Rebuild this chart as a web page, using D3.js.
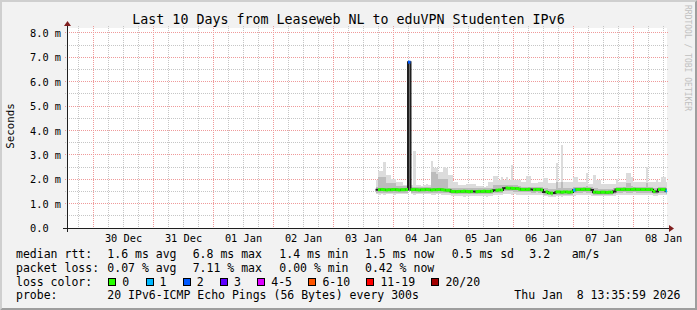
<!DOCTYPE html>
<html><head><meta charset="utf-8">
<script src="https://cdn.jsdelivr.net/npm/d3@7"></script>
<style>
html,body{margin:0;padding:0;background:#f2f2f2;}
svg{display:block;}
text{font-family:"DejaVu Sans Mono",monospace;fill:#000;white-space:pre;}
</style></head><body>
<svg id="chart" width="697" height="310"></svg>
<script>
// ---------------- data ----------------
const title = "Last 10 Days from Leaseweb NL to eduVPN Studenten IPv6";
const yLabel = "Seconds";
const watermark = "RRDTOOL / TOBI OETIKER";
const timeStart = "2025-12-29T13:35:59Z";
const timeEnd = "2026-01-08T13:35:59Z";
const dataStart = "2026-01-03T17:00:00Z";
const stepHours = 1;
const yTop = 8.2;
const yTicks = [0, 1, 2, 3, 4, 5, 6, 7, 8];
const yTickLabels = ["0.0", "1.0 m", "2.0 m", "3.0 m", "4.0 m", "5.0 m", "6.0 m", "7.0 m", "8.0 m"];

// median RTT (ms), one per hour
const median = [
  1.57,1.57,1.58,1.57,1.56,1.57,1.57,1.58,1.57,1.56,
  1.57,1.57,1.58,6.8,1.57,1.58,1.57,1.56,1.57,1.57,
  1.58,1.57,1.56,1.57,1.57,1.58,1.57,1.56,1.55,1.55,
  1.5,1.5,1.49,1.5,1.5,1.51,1.5,1.49,1.5,1.5,
  1.49,1.5,1.5,1.51,1.5,1.5,1.52,1.55,1.55,1.56,
  1.56,1.63,1.64,1.63,1.63,1.62,1.62,1.6,1.58,1.58,
  1.58,1.59,1.58,1.57,1.58,1.58,1.56,1.48,1.48,1.44,
  1.43,1.44,1.48,1.48,1.47,1.48,1.48,1.47,1.48,1.55,
  1.58,1.58,1.58,1.59,1.58,1.58,1.56,1.47,1.47,1.46,
  1.47,1.47,1.46,1.47,1.47,1.5,1.58,1.58,1.58,1.59,
  1.58,1.58,1.58,1.59,1.58,1.58,1.58,1.58,1.58,1.58,
  1.57,1.5,1.5,1.58,1.58,1.58,1.52
];
// lost pings out of 20 (null = between classes, no colour band)
const loss = [
  null,0,0,0,0,0,0,0,0,0,
  0,0,0,2,0,0,0,0,0,0,
  0,0,0,0,0,0,0,0,0,0,
  0,0,0,0,0,0,0,0,0,null,
  0,0,0,0,0,0,0,null,0,0,
  0,null,0,0,0,0,0,0,0,0,
  0,0,null,0,0,0,0,null,0,0,
  0,null,0,0,0,0,0,0,0,1,
  0,0,0,0,0,0,null,0,0,0,
  0,0,0,0,0,null,0,0,0,0,
  0,0,0,0,0,0,0,0,0,0,
  0,0,null,0,0,0,1
];
// smoke: lowest / highest ping (ms)
const smokeMin = [
  1.38,1.37,1.38,1.36,1.38,1.39,1.38,1.37,1.38,1.39,
  1.38,1.38,1.39,1.5,1.38,1.37,1.38,1.39,1.38,1.38,
  1.39,1.38,1.36,1.37,1.38,1.38,1.37,1.36,1.37,1.35,
  1.31,1.3,1.3,1.31,1.3,1.29,1.3,1.31,1.3,1.3,
  1.3,1.31,1.3,1.3,1.29,1.31,1.33,1.36,1.36,1.37,
  1.36,1.38,1.39,1.38,1.37,1.38,1.37,1.36,1.36,1.37,
  1.36,1.36,1.35,1.36,1.37,1.36,1.34,1.3,1.3,1.28,
  1.27,1.28,1.3,1.3,1.29,1.3,1.3,1.3,1.31,1.33,
  1.34,1.35,1.35,1.34,1.34,1.35,1.33,1.31,1.32,1.31,
  1.32,1.32,1.31,1.32,1.32,1.33,1.35,1.35,1.34,1.35,
  1.34,1.35,1.35,1.34,1.35,1.34,1.35,1.35,1.34,1.35,
  1.34,1.33,1.33,1.35,1.35,1.35,1.34
];
const smokeMax = [
  1.97,2.34,2.34,2.69,2.17,2.17,2.0,2.0,1.9,1.9,
  1.9,1.76,1.76,6.85,1.76,3.17,1.75,1.78,1.72,1.75,
  1.8,1.76,2.75,2.46,2.46,2.3,2.3,2.5,2.45,2.17,
  2.17,1.9,1.9,1.76,1.76,1.76,1.8,1.82,1.8,1.8,
  1.72,1.74,1.72,1.7,1.72,1.9,1.9,2.14,2.14,1.97,
  2.1,1.97,2.1,1.95,2.6,1.95,1.95,1.95,1.9,1.9,
  2.14,2.14,1.83,1.83,1.83,1.9,1.9,2.06,2.06,1.83,
  1.83,1.83,2.65,1.9,3.4,1.9,1.9,1.9,1.9,2.1,
  2.1,1.9,1.9,1.9,2.25,1.8,1.8,2.17,1.97,1.97,
  1.8,1.8,1.8,1.8,1.8,1.8,2.0,1.9,1.9,1.9,
  2.27,2.27,2.1,1.9,1.9,1.9,1.9,1.9,2.5,1.9,
  1.9,1.9,1.95,1.9,2.1,2.1,1.9
];
// smoke: inner (denser) band, low / high (ms)
const smokeMidLo = [
  1.45,1.44,1.45,1.44,1.45,1.45,1.45,1.44,1.45,1.45,
  1.45,1.45,1.45,1.5,1.45,1.44,1.45,1.45,1.45,1.45,
  1.45,1.45,1.43,1.44,1.45,1.45,1.44,1.44,1.44,1.43,
  1.39,1.38,1.38,1.39,1.38,1.38,1.38,1.39,1.38,1.38,
  1.38,1.39,1.38,1.38,1.38,1.39,1.4,1.43,1.43,1.44,
  1.44,1.5,1.51,1.5,1.5,1.49,1.49,1.48,1.46,1.46,
  1.46,1.46,1.45,1.45,1.46,1.45,1.44,1.37,1.37,1.34,
  1.33,1.34,1.37,1.37,1.36,1.37,1.37,1.36,1.37,1.42,
  1.45,1.45,1.45,1.46,1.45,1.45,1.44,1.36,1.36,1.35,
  1.36,1.36,1.35,1.36,1.36,1.39,1.45,1.45,1.45,1.46,
  1.45,1.45,1.45,1.46,1.45,1.45,1.45,1.45,1.45,1.45,
  1.44,1.39,1.39,1.45,1.45,1.45,1.41
];
const smokeMidHi = [
  1.7,2.1,2.1,2.1,1.85,1.85,1.85,1.85,1.72,1.72,
  1.72,1.72,1.72,6.85,1.68,1.68,1.68,1.68,1.68,1.68,
  1.68,1.68,2.3,2.3,2.2,2.0,2.0,2.0,2.0,1.65,
  1.65,1.65,1.65,1.65,1.65,1.65,1.65,1.65,1.65,1.65,
  1.65,1.65,1.65,1.65,1.65,1.65,1.65,1.75,1.75,1.75,
  1.75,1.75,1.78,1.78,1.78,1.75,1.75,1.72,1.68,1.68,
  1.7,1.7,1.68,1.68,1.68,1.68,1.68,1.62,1.62,1.6,
  1.6,1.6,1.9,1.62,1.9,1.62,1.62,1.62,1.62,1.7,
  1.7,1.68,1.68,1.68,1.72,1.68,1.68,1.62,1.62,1.6,
  1.6,1.6,1.6,1.6,1.6,1.62,1.7,1.68,1.68,1.68,
  1.85,1.85,1.72,1.68,1.68,1.68,1.68,1.68,1.85,1.68,
  1.68,1.64,1.64,1.68,1.7,1.7,1.66
];

const lossLabels = ["0", "1", "2", "3", "4-5", "6-10", "11-19", "20/20"];
const lossUpper = [0, 1, 2, 3, 5, 10, 19, 20];
const lossColors = ["#26ff00", "#00b8ff", "#0059ff", "#5e00ff", "#dd00ff", "#ff5500", "#ff0000", "#a10000"];

const rttLabel = "median rtt:";
const rttStats = ["1.6 ms avg", "6.8 ms max", "1.4 ms min", "1.5 ms now", "0.5 ms sd", "3.2", "am/s"];
const lossLabel = "packet loss:";
const lossStats = ["0.07 % avg", "7.11 % max", "0.00 % min", "0.42 % now"];
const colorLabel = "loss color:";
const probeLabel = "probe:";
const probeText = "20 IPv6-ICMP Echo Pings (56 Bytes) every 300s";
const stampText = "Thu Jan  8 13:35:59 2026";

// ---------------- drawing ----------------
const W = 697, H = 310;
const L = 67, R = 667, T = 28, B = 228;
const svg = d3.select("#chart");

svg.append("rect").attr("width", W).attr("height", H).attr("fill", "#f2f2f2");
svg.append("path").attr("d", `M0,${H}L2,${H-2}L2,2L${W-2},2L${W},0L0,0Z`).attr("fill", "#cfcfcf");
svg.append("path").attr("d", `M2,${H-2}L${W-2},${H-2}L${W-2},2L${W},0L${W},${H}L0,${H}Z`).attr("fill", "#9e9e9e");
svg.append("rect").attr("x", L).attr("y", T).attr("width", R - L).attr("height", B - T).attr("fill", "#ffffff");

const x = d3.scaleUtc().domain([new Date(timeStart), new Date(timeEnd)]).range([L, R]);
const y = d3.scaleLinear().domain([0, yTop]).range([B, T]);
const px = v => Math.floor(v) + 0.5;

// grid
const grid = svg.append("g").attr("fill", "none").attr("stroke-width", 1);
const [d0, d1] = x.domain();
const minorT = d3.utcHour.every(6).range(d0, d1).filter(d => d.getUTCHours() !== 0);
const majorT = d3.utcDay.range(d0, d1);
const minorY = d3.range(0.5, yTop, 1);
const majorY = yTicks.filter(v => v > 0);
const minorCol = "#c6c6c6", majorCol = "#ef9a9a";
minorT.forEach(t => grid.append("line").attr("x1", px(x(t))).attr("x2", px(x(t))).attr("y1", T - 2).attr("y2", B + 2)
  .attr("stroke", minorCol).attr("stroke-dasharray", "1,1"));
minorY.forEach(v => grid.append("line").attr("x1", L - 2).attr("x2", R + 2).attr("y1", px(y(v))).attr("y2", px(y(v)))
  .attr("stroke", minorCol).attr("stroke-dasharray", "1,1"));
majorT.forEach(t => grid.append("line").attr("x1", px(x(t))).attr("x2", px(x(t))).attr("y1", T - 2).attr("y2", B + 2)
  .attr("stroke", majorCol).attr("stroke-dasharray", "1,1"));
majorY.forEach(v => grid.append("line").attr("x1", L - 2).attr("x2", R + 2).attr("y1", px(y(v))).attr("y2", px(y(v)))
  .attr("stroke", majorCol).attr("stroke-dasharray", "1,1"));

// data
const tAt = i => d3.utcHour.offset(new Date(dataStart), i * stepHours);
const xa = i => x(tAt(i));
const xb = i => Math.min(x(tAt(i + 1)), R);
const idx = d3.range(median.length);
const plot = svg.append("g");
plot.selectAll("rect.smoke").data(idx).join("rect").attr("class", "smoke")
  .attr("x", i => xa(i)).attr("width", i => xb(i) - xa(i))
  .attr("y", i => y(smokeMax[i])).attr("height", i => y(smokeMin[i]) - y(smokeMax[i]))
  .attr("fill", "#dcdcdc").attr("shape-rendering", "crispEdges");
plot.selectAll("rect.smokemid").data(idx).join("rect").attr("class", "smokemid")
  .attr("x", i => xa(i)).attr("width", i => xb(i) - xa(i))
  .attr("y", i => y(smokeMidHi[i])).attr("height", i => y(smokeMidLo[i]) - y(smokeMidHi[i]))
  .attr("fill", "#bcbcbc").attr("shape-rendering", "crispEdges");

const pts = idx.map(i => [xa(i), y(median[i])]);
pts.push([xb(median.length - 1), y(median[median.length - 1])]);
plot.append("path").attr("d", d3.line().curve(d3.curveStepAfter)(pts))
  .attr("fill", "none").attr("stroke", "#202020").attr("stroke-width", 2);

const lossClass = n => lossUpper.findIndex(u => n <= u);
plot.selectAll("rect.med").data(idx.filter(i => loss[i] !== null)).join("rect").attr("class", "med")
  .attr("x", i => xa(i)).attr("width", i => xb(i) - xa(i))
  .attr("y", i => y(median[i]) - 1.5).attr("height", 3)
  .attr("fill", i => lossColors[lossClass(loss[i])]);

// axes
const gy = svg.append("g").attr("transform", `translate(${L},0)`)
  .call(d3.axisLeft(y).tickValues(yTicks).tickFormat((d, i) => yTickLabels[i]).tickSize(0));
gy.select(".domain").remove();
gy.selectAll("text").attr("x", -37).attr("text-anchor", "start").attr("dy", "0.35em")
  .style("font-family", "DejaVu Sans Mono").style("font-size", "10.3px");

const noons = d3.utcDay.range(d3.utcDay.floor(d0), d1).map(d => d3.utcHour.offset(d, 12)).filter(d => d >= d0 && d <= d1);
const gx = svg.append("g").attr("transform", `translate(0,${B})`)
  .call(d3.axisBottom(x).tickValues(noons).tickFormat(d3.utcFormat("%d %b")).tickSize(0));
gx.select(".domain").remove();
gx.selectAll("text").attr("y", 6.5).style("font-family", "DejaVu Sans Mono").style("font-size", "10.3px");

svg.append("line").attr("x1", L - 4).attr("x2", R + 4).attr("y1", B + 0.5).attr("y2", B + 0.5).attr("stroke", "#1f1f1f");
svg.append("line").attr("x1", L + 0.5).attr("x2", L + 0.5).attr("y1", B + 4).attr("y2", T - 4).attr("stroke", "#1f1f1f");
svg.append("path").attr("d", `M${R+2},${B-3}L${R+2},${B+4}L${R+7},${B+0.5}Z`).attr("fill", "#801f1f");
svg.append("path").attr("d", `M${L-3},${T-2}L${L+4},${T-2}L${L+0.5},${T-7}Z`).attr("fill", "#801f1f");

// titles
svg.append("text").attr("x", W / 2).attr("y", 24).attr("text-anchor", "middle")
  .style("font-size", "13.3px").text(title);
svg.append("text").attr("transform", "translate(14,126) rotate(-90)").attr("text-anchor", "middle")
  .style("font-size", "10.8px").text(yLabel);
svg.append("text").attr("transform", "translate(685,5) rotate(90)").attr("text-anchor", "start")
  .style("font-size", "8px").style("fill", "#c0c0c0").text(watermark);

// legend
const lg = svg.append("g").style("font-size", "11.5px");
const row = (yy, items) => items.forEach(([xx, s]) => lg.append("text").attr("x", xx).attr("y", yy).text(s));
const statX = [107.3, 192.7, 279.3, 365, 451.7, 529.3, 571.7];
row(258.3, [[16, rttLabel]].concat(rttStats.map((s, i) => [statX[i], s])));
row(271.8, [[16, lossLabel]].concat(lossStats.map((s, i) => [statX[i], s])));
row(285.6, [[16, colorLabel]]);
const cw = 6.94;
let bx = 108.3;
lossLabels.forEach((s, i) => {
  lg.append("rect").attr("x", Math.round(bx) + 0.5).attr("y", 278.5).attr("width", 7).attr("height", 7)
    .attr("fill", lossColors[i]).attr("stroke", "#000").attr("stroke-width", 1);
  lg.append("text").attr("x", bx + 14).attr("y", 285.6).text(s);
  bx = bx + 14 + s.length * cw + 16.3;
});
row(299.3, [[16, probeLabel], [107.3, probeText]]);
lg.append("text").attr("x", 680.5).attr("y", 299.3).attr("text-anchor", "end").text(stampText);
</script>
</body></html>
